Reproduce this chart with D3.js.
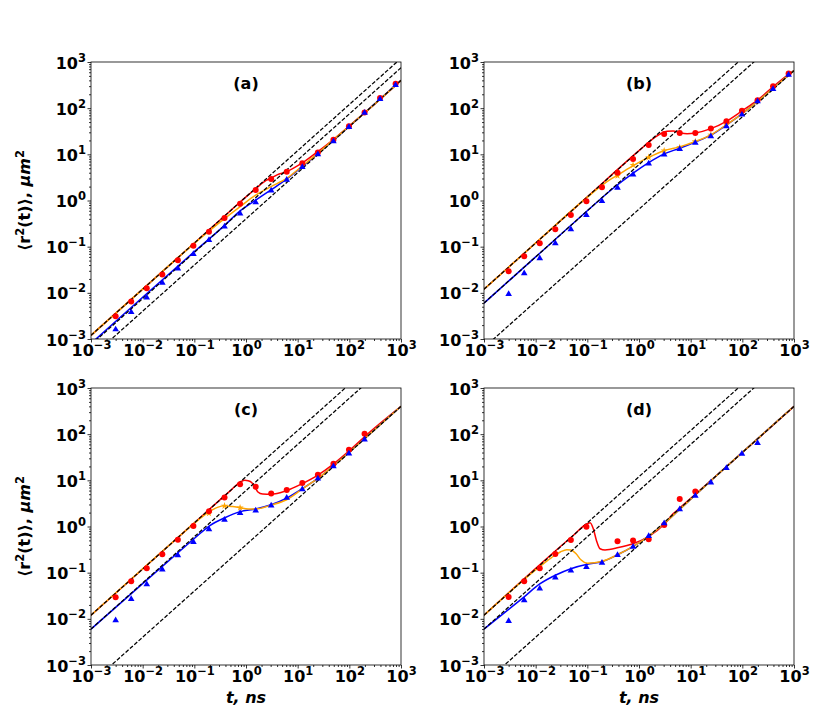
<!DOCTYPE html>
<html>
<head>
<meta charset="utf-8">
<script src="https://cdn.jsdelivr.net/npm/d3@7"></script>
<style>
  body { margin: 0; background: #fff; }
  text { font-family: "DejaVu Sans", sans-serif; }
</style>
</head>
<body>
<svg id="chart" width="830" height="727"></svg>
<script>
// times of the simulation points (ns)
const tMarks = [0.003, 0.006, 0.012, 0.024, 0.048, 0.096, 0.192, 0.384, 0.768, 1.54,
  3.07, 6.14, 12.3, 24.6, 49.2, 98.3, 197, 393, 786];
const decades = [1e-3, 1e-2, 1e-1, 1e0, 1e1, 1e2, 1e3];
const panelLabels = ['(a)', '(b)', '(c)', '(d)'];

// panel (a)
const redA = [0.0031, 0.0065, 0.0125, 0.025, 0.0506, 0.105, 0.211, 0.418, 0.853, 1.69,
  2.92, 4.2, 6.4, 11, 20.8, 40.4, 81, 166, 339];
const blueA = [0.00165, 0.0039, 0.0081, 0.0169, 0.0345, 0.0705, 0.142, 0.28, 0.536, 0.94,
  1.69, 2.88, 5.4, 10.2, 19.5, 39.8, 81, 161, 324];
const orangeA = [];
const redLineA = [[1e-3, 0.0012], [0.01, 0.012], [0.1, 0.12], [0.5, 0.6], [1, 1.2], [1.54, 1.8],
  [2.5, 2.75], [3.05, 3.05], [4, 3.6], [6.1, 4.2], [8, 4.9], [12.3, 6.5], [24.6, 11.5],
  [49, 21], [98, 40.5], [200, 80], [1000, 400]];
const orangeLineA = [[1e-3, 0.0012], [0.01, 0.012], [0.05, 0.06], [0.1, 0.118], [0.2, 0.225],
  [0.4, 0.42], [0.77, 0.74], [1.54, 1.31], [3.05, 1.99], [6.1, 3.0], [12.3, 5.6], [24.6, 10.5],
  [49, 20.5], [98, 40], [200, 80], [1000, 400]];
const blueLineA = [[1e-3, 0.0008], [0.01, 0.008], [0.1, 0.078], [0.4, 0.3], [0.77, 0.6],
  [1.54, 1.02], [3.05, 1.7], [6.1, 2.9], [12.3, 5.4], [24.6, 10.3], [49, 20], [98, 39.5],
  [200, 80], [1000, 400]];
const dashA = [[[1e-3, 0.0012], [1e3, 1200]], [[1e-3, 0.00075], [1e3, 750]], [[1e-3, 0.0004], [1e3, 400]]];

// panel (b)
const redB = [0.0295, 0.0622, 0.119, 0.239, 0.487, 0.96, 1.93, 4.0, 7.9, 15.9,
  27.4, 28.8, 28.8, 36.3, 52, 87.5, 149, 299, 561];
const blueB = [0.0096, 0.0272, 0.0573, 0.121, 0.243, 0.495, 0.99, 1.93, 3.74, 6.47,
  10.1, 13.4, 18.1, 25.2, 41.5, 74, 144, 266, 543];
const orangeB = [null, null, null, null, null, null, null, 3.44, 5.86, 8.6,
  12, 14.1, 19, 26.5, 43.5, null, null, null, null];
const redLineB = [[1e-3, 0.012], [0.1, 1.2], [1, 12], [2, 23], [2.8, 29], [3.5, 31.5], [4.6, 32],
  [6.1, 29.5], [8.5, 28], [12.3, 29], [24.6, 36], [49, 52], [98, 87], [197, 150], [393, 290],
  [786, 540], [1000, 650]];
const orangeLineB = [[1e-3, 0.012], [0.01, 0.12], [0.1, 1.18], [0.2, 2.2], [0.3, 3.0], [0.38, 3.5],
  [0.77, 5.7], [1.54, 8.6], [3.05, 12], [6.1, 14.5], [12.3, 19], [24.6, 26.5], [49, 43.5],
  [98, 75], [197, 140], [393, 270], [786, 520], [1000, 650]];
const blueLineB = [[1e-3, 0.006], [0.01, 0.06], [0.1, 0.6], [0.3, 1.75], [0.77, 3.9], [1.54, 6.6],
  [3.05, 10.2], [6.1, 13.5], [12.3, 18.5], [24.6, 26], [49, 43], [98, 75], [197, 140],
  [393, 270], [786, 520], [1000, 650]];
const dashB = [[[1e-3, 0.012], [1e3, 12000]], [[1e-3, 0.006], [1e3, 6000]], [[1e-3, 0.00065], [1e3, 650]]];

// panel (c)
const redC = [0.0294, 0.0653, 0.125, 0.251, 0.514, 1.03, 2.15, 4.26, 8.2, 7.3,
  5.2, 6.2, 8.73, 13.2, 22.9, 46, 102];
const blueC = [0.0095, 0.0275, 0.0572, 0.119, 0.243, 0.473, 0.89, 1.43, 2.0, 2.28,
  2.9, 4.3, 6.57, 11.2, 20.7, 39, 78.5];
const orangeC = [null, null, null, null, null, null, 1.93, 2.8, 2.55, null,
  null, null, null, null, null, null, null];
const redLineC = [[1e-3, 0.012], [0.1, 1.2], [0.5, 6], [0.8, 9.4], [0.95, 10], [1.1, 9.8],
  [1.3, 8.9], [1.5, 7], [1.7, 5.6], [2.1, 5.05], [3.05, 5.0], [6.1, 6.0], [12.3, 8.5],
  [24.6, 13], [49, 22.5], [98, 43], [197, 88], [1000, 400]];
const orangeLineC = [[1e-3, 0.012], [0.05, 0.6], [0.1, 1.18], [0.15, 1.7], [0.19, 2.05],
  [0.28, 2.6], [0.39, 2.8], [0.55, 2.7], [0.77, 2.55], [1.1, 2.4], [1.54, 2.4], [3.05, 2.9],
  [6.1, 3.8], [12.3, 6.5], [24.6, 11], [49, 20.5], [98, 40], [197, 80], [1000, 400]];
const blueLineC = [[1e-3, 0.006], [0.01, 0.058], [0.05, 0.28], [0.1, 0.55], [0.2, 1.05],
  [0.39, 1.55], [0.77, 2.1], [1.54, 2.4], [3.05, 2.95], [6.1, 4.1], [12.3, 6.6], [24.6, 11],
  [49, 20.5], [98, 40], [197, 80], [1000, 400]];
const dashC = [[[1e-3, 0.012], [1e3, 12000]], [[1e-3, 0.006], [1e3, 6000]], [[1e-3, 0.0004], [1e3, 400]]];

// panel (d)
const redD = [0.0296, 0.0648, 0.124, 0.255, 0.51, 0.99, null, 0.48, 0.5, 0.53,
  1.08, 3.94, 5.7, null, null, null, null];
const blueD = [0.0092, 0.0259, 0.0465, 0.0805, 0.114, 0.135, 0.168, 0.246, 0.373, 0.637,
  1.2, 2.42, 4.72, 9.2, 18.8, 38.6, 65.9];
const orangeD = [];
const redLineD = [[1e-3, 0.012], [0.05, 0.6], [0.1, 1.15], [0.113, 1.2], [0.13, 0.9], [0.15, 0.5],
  [0.176, 0.33], [0.22, 0.31], [0.4, 0.35], [0.78, 0.43], [1.58, 0.62], [3.05, 1.1],
  [4.6, 1.9], [6.1, 2.5], [12.3, 5.0], [24.6, 9.9], [1000, 400]];
const orangeLineD = [[1e-3, 0.012], [0.01, 0.115], [0.02, 0.21], [0.03, 0.28], [0.04, 0.315],
  [0.048, 0.31], [0.06, 0.26], [0.075, 0.19], [0.1, 0.16], [0.19, 0.175], [0.4, 0.25],
  [0.77, 0.37], [1.54, 0.62], [3.05, 1.15], [6.1, 2.35], [12.3, 4.8], [24.6, 9.8], [1000, 400]];
const blueLineD = [[1e-3, 0.006], [0.003, 0.016], [0.006, 0.03], [0.012, 0.057], [0.024, 0.088],
  [0.048, 0.122], [0.1, 0.152], [0.19, 0.172], [0.4, 0.25], [0.77, 0.37], [1.54, 0.62],
  [3.05, 1.15], [6.1, 2.35], [12.3, 4.8], [24.6, 9.8], [1000, 400]];
const dashD = [[[1e-3, 0.012], [1e3, 12000]], [[1e-3, 0.006], [1e3, 6000]], [[1e-3, 0.0004], [1e3, 400]]];

const panels = [
  { left: 91, top: 62, red: redA, blue: blueA, orange: orangeA, redLine: redLineA, orangeLine: orangeLineA, blueLine: blueLineA, dash: dashA, ylab: true, xlab: false },
  { left: 484, top: 62, red: redB, blue: blueB, orange: orangeB, redLine: redLineB, orangeLine: orangeLineB, blueLine: blueLineB, dash: dashB, ylab: false, xlab: false },
  { left: 91, top: 388, red: redC, blue: blueC, orange: orangeC, redLine: redLineC, orangeLine: orangeLineC, blueLine: blueLineC, dash: dashC, ylab: true, xlab: true },
  { left: 484, top: 388, red: redD, blue: blueD, orange: orangeD, redLine: redLineD, orangeLine: orangeLineD, blueLine: blueLineD, dash: dashD, ylab: false, xlab: true },
];
const W = 310, H = 277;

const svg = d3.select('#chart');

// minor ticks 2..9 for every decade
let minors = [];
decades.slice(0, -1).forEach(d => {
  for (let m = 2; m < 10; m++) minors.push(d * m);
});

function powLabel(text, d) {
  const e = Math.round(Math.log10(d));
  text.text(null);
  text.append('tspan').text('10');
  text.append('tspan').attr('dy', -7).attr('font-size', 11.5)
    .text(String(e).replace('-', '\u2212'));
}

function drawPanel(p, i) {
  const g = svg.append('g').attr('transform', `translate(${p.left},${p.top})`);
  const x = d3.scaleLog().domain([1e-3, 1e3]).range([0, W]);
  const y = d3.scaleLog().domain([1e-3, 1e3]).range([H, 0]);

  g.append('clipPath').attr('id', 'clip' + i)
    .append('rect').attr('width', W).attr('height', H);

  // axes: minor then major ticks
  const xMinor = g.append('g').attr('transform', `translate(0,${H})`)
    .call(d3.axisBottom(x).tickValues(minors).tickFormat('').tickSize(2).tickSizeOuter(0));
  const yMinor = g.append('g')
    .call(d3.axisLeft(y).tickValues(minors).tickFormat('').tickSize(2).tickSizeOuter(0));
  const xMajor = g.append('g').attr('transform', `translate(0,${H})`)
    .call(d3.axisBottom(x).tickValues(decades).tickSize(3.5).tickSizeOuter(0));
  const yMajor = g.append('g')
    .call(d3.axisLeft(y).tickValues(decades).tickSize(3.5).tickSizeOuter(0));
  [xMinor, yMinor, xMajor, yMajor].forEach(a => {
    a.select('.domain').remove();
    a.selectAll('line').attr('stroke', '#000').attr('stroke-width', 0.8);
  });
  xMajor.selectAll('text')
    .attr('dy', null).attr('y', 17)
    .attr('font-size', 16).attr('font-weight', 'bold').attr('fill', '#000')
    .each(function (d) { powLabel(d3.select(this), d); });
  yMajor.selectAll('text')
    .attr('dy', null).attr('y', 6).attr('x', -5)
    .attr('font-size', 16).attr('font-weight', 'bold').attr('fill', '#000')
    .each(function (d) { powLabel(d3.select(this), d); });

  const plot = g.append('g').attr('clip-path', `url(#clip${i})`);
  const line = d3.line().x(d => x(d[0])).y(d => y(d[1])).curve(d3.curveMonotoneX);

  plot.append('path').datum(p.redLine).attr('d', line)
    .attr('fill', 'none').attr('stroke', 'red').attr('stroke-width', 1.5);
  plot.append('path').datum(p.blueLine).attr('d', line)
    .attr('fill', 'none').attr('stroke', 'blue').attr('stroke-width', 1.5);
  plot.append('path').datum(p.orangeLine).attr('d', line)
    .attr('fill', 'none').attr('stroke', 'orange').attr('stroke-width', 1.5);

  plot.selectAll('.dash').data(p.dash).join('path')
    .attr('class', 'dash')
    .attr('d', d3.line().x(d => x(d[0])).y(d => y(d[1])))
    .attr('fill', 'none').attr('stroke', '#000').attr('stroke-width', 1.25)
    .attr('stroke-dasharray', '4,1.8');

  const pts = (arr) => arr.map((v, k) => [tMarks[k], v]).filter(d => d[1] != null);

  plot.selectAll('.star').data(pts(p.orange)).join('path')
    .attr('class', 'star')
    .attr('transform', d => `translate(${x(d[0])},${y(d[1])})`)
    .attr('d', d3.symbol(d3.symbolStar, 16))
    .attr('fill', 'orange');
  plot.selectAll('.dot').data(pts(p.red)).join('circle')
    .attr('class', 'dot')
    .attr('cx', d => x(d[0])).attr('cy', d => y(d[1])).attr('r', 3)
    .attr('fill', 'red');
  plot.selectAll('.tri').data(pts(p.blue)).join('path')
    .attr('class', 'tri')
    .attr('transform', d => `translate(${x(d[0])},${y(d[1]) + 0.5})`)
    .attr('d', d3.symbol(d3.symbolTriangle, 19))
    .attr('fill', 'blue');

  // frame
  g.append('rect').attr('width', W).attr('height', H)
    .attr('fill', 'none').attr('stroke', '#000').attr('stroke-width', 0.8);

  g.append('text').attr('x', W / 2).attr('y', 27)
    .attr('text-anchor', 'middle').attr('font-size', 16).attr('font-weight', 'bold')
    .text(panelLabels[i]);

  if (p.ylab) {
    const t = svg.append('text')
      .attr('transform', `translate(${p.left - 61},${p.top + H / 2}) rotate(-90)`)
      .attr('text-anchor', 'middle').attr('font-size', 16).attr('font-weight', 'bold');
    t.append('tspan').text('\u27e8r');
    t.append('tspan').attr('dy', -6).attr('font-size', 11.5).text('2');
    t.append('tspan').attr('dy', 6).text('(t)\u27e9, ');
    t.append('tspan').attr('font-style', 'italic').text('\u03bcm');
    t.append('tspan').attr('dy', -6).attr('font-size', 11.5).text('2');
  }
  if (p.xlab) {
    svg.append('text')
      .attr('x', p.left + W / 2).attr('y', p.top + H + 38)
      .attr('text-anchor', 'middle').attr('font-size', 16)
      .attr('font-weight', 'bold').attr('font-style', 'italic')
      .text('t, ns');
  }
}

panels.forEach(drawPanel);
</script>
</body>
</html>
